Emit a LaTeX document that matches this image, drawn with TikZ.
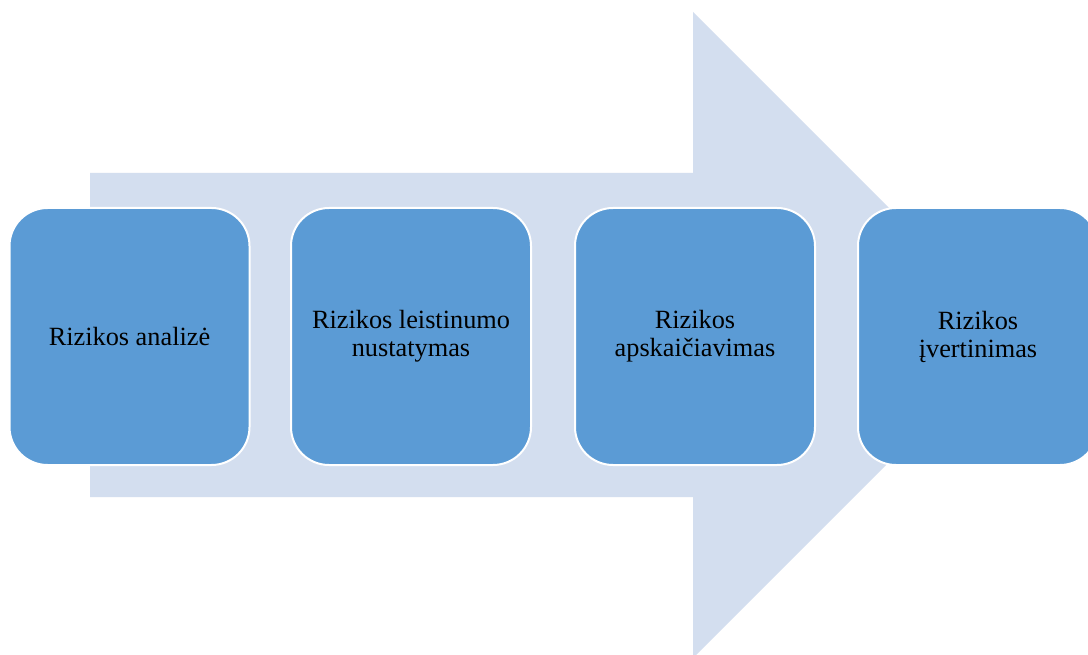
\documentclass[tikz,border=0pt]{standalone}
\usepackage{fontspec}
\setmainfont{Liberation Serif}
\definecolor{arrowfill}{RGB}{211,222,239}
\definecolor{boxfill}{RGB}{91,155,213}
\begin{document}
\begin{tikzpicture}[x=1pt,y=-1pt,
  stepbox/.style={draw=white,line width=2pt,fill=boxfill,rounded corners=38pt,
    minimum width=240pt,minimum height=257pt,align=center,inner sep=0pt,
    font=\fontsize{26.3}{28}\selectfont,text=black}]
\clip (0,0) rectangle (1088,655);
\fill[white] (0,0) rectangle (1088,655);
\fill[arrowfill] (90,173) -- (693,173) -- (693,12) -- (1016,335) -- (693,658) -- (693,497) -- (90,497) -- cycle;
\node[stepbox] (b1) at (129.5,336.5) {Rizikos analizė};
\node[stepbox] (b2) at (411,336.5) {Rizikos leistinumo\\nustatymas};
\node[stepbox] (b3) at (695,336.5) {Rizikos\\apskaičiavimas};
\node[stepbox] (b4) at (978,336.5) {Rizikos\\įvertinimas};
\end{tikzpicture}
\end{document}
